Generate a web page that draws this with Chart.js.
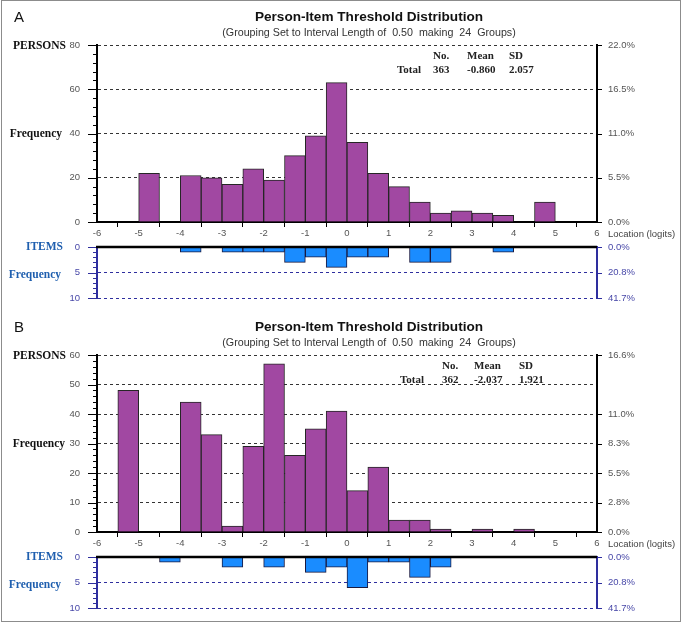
<!DOCTYPE html>
<html><head><meta charset="utf-8">
<script src="https://cdn.jsdelivr.net/npm/chart.js@4.4.0/dist/chart.umd.min.js"></script>
<style>
html,body{margin:0;padding:0;background:#fff;}
body{width:682px;height:623px;position:relative;overflow:hidden;font-family:Arial,"Liberation Sans",sans-serif;}
canvas{position:absolute;left:0;}
.t{position:absolute;white-space:pre;line-height:1;}
.frame{position:absolute;left:1px;top:0;width:678px;height:620px;border:1px solid #8c8c8c;}
.serif{font-family:"Liberation Serif","Times New Roman",serif;font-weight:bold;}
</style></head><body>
<div class="frame"></div>
<canvas id="pA" width="682" height="242" style="top:0px"></canvas>
<canvas id="iA" width="682" height="68" style="top:241px"></canvas>
<canvas id="pB" width="682" height="242" style="top:310px"></canvas>
<canvas id="iB" width="682" height="68" style="top:551px"></canvas>
<script>
// ---- data ----
const binCenters = [-5.75,-5.25,-4.75,-4.25,-3.75,-3.25,-2.75,-2.25,-1.75,-1.25,-0.75,-0.25,0.25,0.75,1.25,1.75,2.25,2.75,3.25,3.75,4.25,4.75,5.25,5.75];
const personsA = [0,0,22,0,21,20,17,24,19,30,39,63,36,22,16,9,4,5,4,3,0,9,0,0];
const itemsA   = [0,0,0,0,1,0,1,1,1,3,2,4,2,2,0,3,3,0,0,1,0,0,0,0];
const personsB = [0,48,0,0,44,33,2,29,57,26,35,41,14,22,4,4,1,0,1,0,1,0,0,0];
const itemsB   = [0,0,0,1,0,0,2,0,2,0,3,2,6,1,1,4,2,0,0,0,0,0,0,0];
const statHeaders = ['No.','Mean','SD'];
const statsA = ['363','-0.860','2.057'];
const statsB = ['362','-2.037','1.921'];
const panelLetters = ['A','B'];
const titleText = 'Person-Item Threshold Distribution';
const subtitleText = '(Grouping Set to Interval Length of  0.50  making  24  Groups)';
const xAxisTitle = 'Location (logits)';
const pctHiddenB = [50];

const PURPLE = '#A148A2', BLUE = '#1A8CFF', NAVY = '#2E2E9E', NAVYTXT = '#4848A8';
const tickFont = {family:'Arial', size:9.5};
const CLEAR = 'rgba(0,0,0,0)';
const sum = a => a.reduce((s,v)=>s+v,0);

const decor = {
  id:'decor',
  afterDraw(chart, args, o){
    const {ctx, chartArea:a, scales:{y, y2}} = chart;
    ctx.save();
    ctx.strokeStyle = o.color; ctx.lineWidth = 1;
    for (let v = 0; v <= o.max + 1e-9; v += o.minor){
      const py = Math.round(y.getPixelForValue(v)) + 0.5;
      const len = Math.abs(v/o.major - Math.round(v/o.major)) < 1e-6 ? 9 : 4;
      ctx.beginPath(); ctx.moveTo(a.left - len, py); ctx.lineTo(a.left, py); ctx.stroke();
    }
    y2.ticks.forEach(t=>{
      if (t.label === '') return;
      const py = Math.round(y2.getPixelForValue(t.value)) + 0.5;
      ctx.beginPath(); ctx.moveTo(a.right, py); ctx.lineTo(a.right + 5, py); ctx.stroke();
    });
    if (o.zeroLine){
      const py = y.getPixelForValue(0);
      ctx.strokeStyle = '#000'; ctx.lineWidth = 2.5;
      ctx.beginPath(); ctx.moveTo(a.left - 1, py); ctx.lineTo(a.right, py); ctx.stroke();
    }
    ctx.restore();
  }
};

function persons(id, vals, yMax, major, minor, hidden){
  const total = sum(vals);
  new Chart(document.getElementById(id), {
    type:'bar',
    data:{datasets:[{data: binCenters.map((c,i)=>({x:c,y:vals[i]})), backgroundColor:PURPLE, borderColor:'#262626', borderWidth:1, barPercentage:1, categoryPercentage:1}]},
    options:{
      responsive:false, animation:false,
      layout:{padding:{top:45,left:0,right:0,bottom:0}},
      plugins:{legend:{display:false}, tooltip:{enabled:false}, decor:{color:'#000', minor, major, max:yMax}},
      scales:{
        x:{type:'linear', min:-6, max:6, offset:false,
           ticks:{stepSize:1, color:'#555', font:tickFont, padding:1, maxRotation:0, autoSkip:false},
           grid:{drawOnChartArea:false, drawTicks:true, tickLength:5, color:'#000'},
           border:{color:'#000', width:2},
           afterFit:s=>{s.height=20;}},
        y:{position:'left', min:0, max:yMax,
           ticks:{stepSize:major, color:'#555', font:tickFont, padding:0},
           grid:{drawTicks:true, tickLength:17, tickColor:CLEAR, color:'#333', lineWidth:1},
           border:{color:'#000', width:2, dash:[3,3]},
           afterFit:s=>{s.width=97;}},
        y2:{position:'right', min:0, max:yMax,
           ticks:{stepSize:major, color:'#555', font:tickFont, padding:0,
                  callback:v=> hidden.includes(v) ? '' : (v/total*100).toFixed(1)+'%'},
           grid:{drawOnChartArea:false, drawTicks:true, tickLength:11, tickColor:CLEAR},
           border:{color:'#000', width:2},
           afterFit:s=>{s.width=85;}}
      }
    },
    plugins:[decor]
  });
}

function items(id, vals){
  const total = sum(vals);
  new Chart(document.getElementById(id), {
    type:'bar',
    data:{datasets:[{data: binCenters.map((c,i)=>({x:c,y:vals[i]})), backgroundColor:BLUE, borderColor:'#1a1a40', borderWidth:1, barPercentage:1, categoryPercentage:1}]},
    options:{
      responsive:false, animation:false,
      layout:{padding:{top:6,left:0,right:0,bottom:11}},
      plugins:{legend:{display:false}, tooltip:{enabled:false}, decor:{color:NAVY, minor:1, major:5, max:10, zeroLine:true}},
      scales:{
        x:{type:'linear', display:false, min:-6, max:6, offset:false},
        y:{position:'left', reverse:true, min:0, max:10,
           ticks:{stepSize:5, color:NAVYTXT, font:tickFont, padding:0},
           grid:{drawTicks:true, tickLength:17, tickColor:CLEAR, color:NAVY, lineWidth:1},
           border:{color:NAVY, width:2, dash:[3,3]},
           afterFit:s=>{s.width=97;}},
        y2:{position:'right', reverse:true, min:0, max:10,
           ticks:{stepSize:5, color:NAVYTXT, font:tickFont, padding:0,
                  callback:v=>(v/total*100).toFixed(1)+'%'},
           grid:{drawOnChartArea:false, drawTicks:true, tickLength:11, tickColor:CLEAR},
           border:{color:NAVY, width:2},
           afterFit:s=>{s.width=85;}}
      }
    },
    plugins:[decor]
  });
}

persons('pA', personsA, 80, 20, 4, []);
items('iA', itemsA);
persons('pB', personsB, 60, 10, 2, pctHiddenB);
items('iB', itemsB);

// ---- text ----
function txt(s, x, y, align, css, cls){
  const d = document.createElement('div');
  d.className = 't' + (cls ? ' '+cls : '');
  d.textContent = s;
  let tx = align==='center' ? '-50%' : (align==='right' ? '-100%' : '0');
  d.style.left = x+'px'; d.style.top = y+'px';
  d.style.transform = 'translate('+tx+',-50%)';
  Object.assign(d.style, css||{});
  document.body.appendChild(d);
}
const panels = [
  {dy:0, stats:statsA, cols:[397,433,467,509], freqR:62},
  {dy:310, stats:statsB, cols:[400,442,474,519], freqR:65}
];
panels.forEach((p,k)=>{
  const dy = p.dy;
  txt(panelLetters[k], 14, 15.5+dy, 'left', {fontSize:'15px', color:'#111'});
  txt(titleText, 369, 17+dy, 'center', {fontSize:'13.6px', fontWeight:'bold', color:'#111'});
  txt(subtitleText, 369, 32+dy, 'center', {fontSize:'10.7px', color:'#333'});
  txt('PERSONS', 66, 45.5+dy, 'right', {fontSize:'11.5px', color:'#111'}, 'serif');
  txt('Frequency', p.freqR, 133.5+dy, 'right', {fontSize:'11.5px', color:'#111'}, 'serif');
  txt('ITEMS', 63, 246.5+dy, 'right', {fontSize:'11.5px', color:'#1F5FAF'}, 'serif');
  txt('Frequency', 61, 275+dy, 'right', {fontSize:'11.5px', color:'#1F5FAF'}, 'serif');
  txt(xAxisTitle, 608, 233.5+dy, 'left', {fontSize:'9.5px', color:'#444'});
  statHeaders.forEach((h,i)=> txt(h, p.cols[i+1], 55+dy, 'left', {fontSize:'11px', color:'#222'}, 'serif'));
  txt('Total', p.cols[0], 68.5+dy, 'left', {fontSize:'11px', color:'#222'}, 'serif');
  p.stats.forEach((v,i)=> txt(v, p.cols[i+1], 68.5+dy, 'left', {fontSize:'11px', color:'#222'}, 'serif'));
});
</script>
</body></html>
